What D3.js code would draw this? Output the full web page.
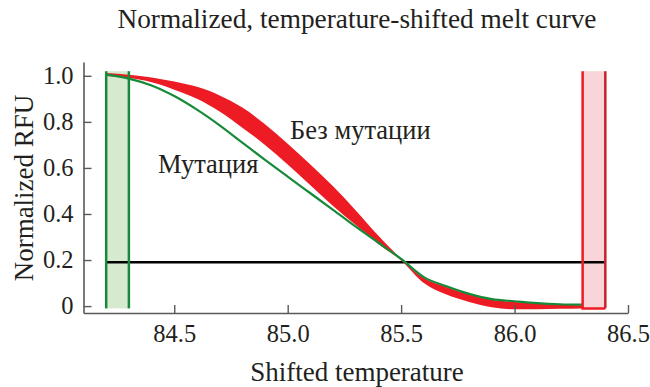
<!DOCTYPE html>
<html>
<head>
<meta charset="utf-8">
<script src="https://cdn.jsdelivr.net/npm/d3@7"></script>
<style>
  html, body { margin: 0; padding: 0; background: #fff; }
  svg { display: block; }
  svg text { font-family: "Liberation Serif", "Times New Roman", Times, serif; }
</style>
</head>
<body>
<div id="chart"></div>
<script>
const temps = [84.2, 84.3, 84.4, 84.5, 84.6, 84.7, 84.8, 84.9, 85.0, 85.1, 85.2,
  85.3, 85.4, 85.5, 85.6, 85.7, 85.8, 85.9, 86.0, 86.1, 86.2, 86.3];
// Без мутации: red band, upper and lower edges
const wildUpper = [1.012, 1.005, 0.993, 0.975, 0.952, 0.915, 0.862, 0.79, 0.705, 0.615, 0.52,
  0.415, 0.305, 0.205, 0.122, 0.083, 0.05, 0.027, 0.018, 0.011, 0.006, 0.004];
const wildLower = [0.999, 0.99, 0.972, 0.94, 0.9, 0.845, 0.775, 0.70, 0.615, 0.525, 0.435,
  0.352, 0.27, 0.198, 0.10, 0.05, 0.018, -0.005, -0.014, -0.014, -0.012, -0.01];
// Мутация: green curve
const mutant = [1.005, 0.988, 0.958, 0.912, 0.853, 0.785, 0.71, 0.635, 0.562, 0.49, 0.418,
  0.345, 0.275, 0.205, 0.126, 0.086, 0.053, 0.03, 0.021, 0.013, 0.008, 0.006];

const xTicks = [84.5, 85.0, 85.5, 86.0, 86.5];
const yTicks = [0, 0.2, 0.4, 0.6, 0.8, 1.0];
const greenRange = [84.2, 84.3];
const redRange = [86.3, 86.4];
const rangeTop = 1.02, rangeBottom = -0.01;
const threshold = 0.19;

const width = 650, height = 387;
const textColor = '#231f20';
const axisColor = '#58595b';
const red = '#ed1c24';
const green = '#178a3a';

const svg = d3.select('#chart').append('svg')
  .attr('width', width)
  .attr('height', height);

const x = d3.scaleLinear().domain([84.1, 86.5]).range([83.5, 628]);
const y = d3.scaleLinear().domain([-0.03, 1.06]).range([313, 62]);

// Title and axis titles
svg.append('text')
  .attr('x', 357).attr('y', 28)
  .attr('text-anchor', 'middle')
  .attr('font-size', 27.3)
  .attr('fill', textColor)
  .text('Normalized, temperature-shifted melt curve');

svg.append('text')
  .attr('x', 357).attr('y', 381)
  .attr('text-anchor', 'middle')
  .attr('font-size', 27)
  .attr('fill', textColor)
  .text('Shifted temperature');

svg.append('text')
  .attr('transform', 'translate(33, 188) rotate(-90)')
  .attr('text-anchor', 'middle')
  .attr('font-size', 27)
  .attr('fill', textColor)
  .text('Normalized RFU');

// Range markers
svg.append('rect')
  .attr('x', x(greenRange[0])).attr('y', y(rangeTop))
  .attr('width', x(greenRange[1]) - x(greenRange[0]))
  .attr('height', y(rangeBottom) - y(rangeTop))
  .attr('fill', '#d6ead0');

svg.append('rect')
  .attr('x', x(redRange[0])).attr('y', y(rangeTop))
  .attr('width', x(redRange[1]) - x(redRange[0]))
  .attr('height', y(rangeBottom) - y(rangeTop))
  .attr('fill', '#f9d5da');

// Threshold line
svg.append('line')
  .attr('x1', x(greenRange[0])).attr('x2', x(redRange[1]))
  .attr('y1', y(threshold)).attr('y2', y(threshold))
  .attr('stroke', '#000')
  .attr('stroke-width', 2.5);

const rows = temps.map((t, i) => ({ t, hi: wildUpper[i], lo: wildLower[i], m: mutant[i] }));

// Red band
svg.append('path')
  .datum(rows)
  .attr('fill', red)
  .attr('d', d3.area()
    .x(d => x(d.t))
    .y0(d => y(d.lo))
    .y1(d => y(d.hi))
    .curve(d3.curveMonotoneX));

// Green curve
svg.append('path')
  .datum(rows)
  .attr('fill', 'none')
  .attr('stroke', green)
  .attr('stroke-width', 2.2)
  .attr('d', d3.line()
    .x(d => x(d.t))
    .y(d => y(d.m))
    .curve(d3.curveMonotoneX));

// Range marker borders
greenRange.forEach(v => {
  svg.append('line')
    .attr('x1', x(v)).attr('x2', x(v))
    .attr('y1', y(rangeTop)).attr('y2', y(rangeBottom))
    .attr('stroke', green).attr('stroke-width', 2.5);
});

svg.append('path')
  .attr('fill', 'none')
  .attr('stroke', red)
  .attr('stroke-width', 2.5)
  .attr('d', `M${x(redRange[0])},${y(rangeTop)}V${y(rangeBottom)}H${x(redRange[1])}`);
svg.append('line')
  .attr('x1', x(redRange[1])).attr('x2', x(redRange[1]))
  .attr('y1', y(rangeTop)).attr('y2', y(rangeBottom))
  .attr('stroke', '#c8202e').attr('stroke-width', 2.5);

// Axes
const xAxis = svg.append('g')
  .attr('transform', `translate(0, ${y.range()[0]})`)
  .call(d3.axisBottom(x).tickValues(xTicks).tickFormat(d3.format('.1f'))
    .tickSizeInner(-8).tickSizeOuter(0).tickPadding(12));

const yAxis = svg.append('g')
  .attr('transform', `translate(${x.range()[0]}, 0)`)
  .call(d3.axisLeft(y).tickValues(yTicks).tickFormat(d => d === 0 ? '0' : d.toFixed(1))
    .tickSizeInner(-8).tickSizeOuter(0).tickPadding(10));

[xAxis, yAxis].forEach(g => {
  g.attr('font-family', null).attr('font-size', 24.5);
  g.select('.domain').attr('stroke', axisColor).attr('stroke-width', 1.6);
  g.selectAll('.tick line').attr('stroke', axisColor).attr('stroke-width', 1.4);
  g.selectAll('.tick text').attr('fill', textColor);
});

// Curve labels
svg.append('text')
  .attr('x', 290).attr('y', 139)
  .attr('font-size', 26.5)
  .attr('fill', textColor)
  .text('Без мутации');

svg.append('text')
  .attr('x', 158).attr('y', 173)
  .attr('font-size', 26.5)
  .attr('fill', textColor)
  .text('Мутация');
</script>
</body>
</html>
